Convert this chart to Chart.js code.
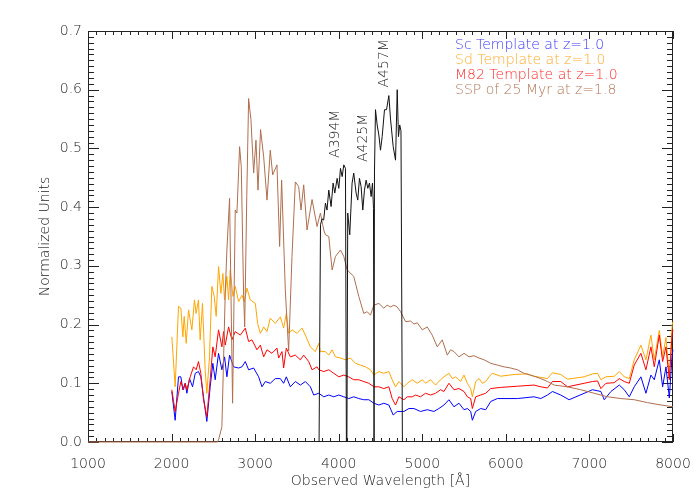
<!DOCTYPE html>
<html lang="en">
<head>
    <meta charset="UTF-8">
    <title>Spectral templates and filters</title>
    <style>
        body { margin: 0; background: #fff; }
        #wrap { width: 700px; height: 500px; }
    </style>
</head>
<body>
    <div id="wrap"><canvas id="specChart" width="700" height="500"></canvas></div>

    <script src="https://cdn.jsdelivr.net/npm/chart.js"></script>
    <script>
        // ---- data (wavelength in Å, flux in normalized units) ----
        const scWave = [2003,2043,2083,2111,2135,2163,2183,2215,2251,2283,2322,2350,2382,2422,2462,2494,2522,2562,2602,2634,2662,2694,2742,2802,2842,2882,2922,2982,3042,3082,3122,3181,3241,3301,3341,3373,3421,3481,3541,3601,3661,3701,3761,3821,3881,3941,4001,4061,4120,4180,4240,4300,4360,4420,4480,4540,4600,4652,4700,4780,4840,4900,4979,5059,5139,5199,5259,5319,5379,5439,5499,5539,5579,5599,5639,5699,5759,5819,5898,6138,6338,6418,6498,6558,6657,6757,7037,7137,7177,7257,7357,7417,7477,7536,7616,7676,7736,7776,7836,7876,7916,7956,7990,8000];
        const scFlux = [0.086,0.037,0.111,0.111,0.089,0.100,0.083,0.108,0.094,0.117,0.120,0.111,0.077,0.035,0.094,0.134,0.106,0.151,0.123,0.145,0.111,0.148,0.128,0.126,0.128,0.137,0.123,0.126,0.111,0.094,0.103,0.100,0.108,0.108,0.100,0.111,0.094,0.103,0.097,0.103,0.094,0.080,0.083,0.077,0.080,0.077,0.080,0.077,0.074,0.077,0.074,0.072,0.072,0.066,0.063,0.066,0.063,0.046,0.052,0.052,0.057,0.057,0.052,0.055,0.052,0.057,0.063,0.072,0.060,0.066,0.055,0.057,0.052,0.037,0.052,0.057,0.055,0.069,0.074,0.074,0.077,0.074,0.080,0.086,0.080,0.072,0.089,0.086,0.072,0.086,0.097,0.089,0.077,0.094,0.111,0.083,0.114,0.106,0.140,0.094,0.128,0.075,0.150,0.157];

        const sdWave = [2003,2043,2083,2111,2135,2151,2175,2203,2243,2274,2294,2322,2342,2370,2402,2422,2454,2482,2510,2534,2562,2590,2614,2634,2662,2682,2702,2734,2762,2802,2842,2870,2902,2942,3002,3030,3062,3102,3142,3181,3241,3301,3341,3373,3401,3441,3501,3561,3601,3661,3721,3761,3781,3841,3881,3921,3961,4021,4080,4140,4200,4260,4320,4380,4420,4480,4540,4600,4640,4680,4720,4780,4820,4880,4940,5000,5039,5099,5159,5219,5259,5319,5359,5399,5459,5499,5539,5579,5599,5639,5679,5719,5759,5799,5839,5938,6098,6258,6338,6418,6498,6558,6657,6737,6937,7037,7097,7137,7197,7297,7357,7417,7477,7536,7616,7676,7736,7776,7836,7876,7916,7956,7990,8000];
        const sdFlux = [0.179,0.094,0.231,0.228,0.179,0.214,0.168,0.225,0.191,0.242,0.219,0.242,0.174,0.236,0.123,0.083,0.145,0.265,0.248,0.214,0.299,0.253,0.287,0.242,0.282,0.242,0.293,0.248,0.265,0.239,0.250,0.239,0.262,0.242,0.236,0.202,0.185,0.196,0.188,0.211,0.202,0.213,0.194,0.219,0.185,0.191,0.185,0.194,0.182,0.162,0.154,0.168,0.154,0.154,0.148,0.157,0.145,0.143,0.140,0.143,0.134,0.131,0.128,0.123,0.114,0.120,0.117,0.120,0.106,0.094,0.103,0.094,0.100,0.106,0.100,0.106,0.100,0.106,0.097,0.106,0.111,0.117,0.108,0.111,0.103,0.114,0.100,0.091,0.077,0.103,0.108,0.100,0.103,0.111,0.117,0.112,0.115,0.116,0.112,0.110,0.108,0.118,0.115,0.107,0.111,0.116,0.117,0.106,0.111,0.112,0.120,0.111,0.108,0.140,0.165,0.140,0.182,0.140,0.190,0.145,0.178,0.112,0.200,0.205];

        const m82Wave = [2003,2043,2083,2111,2143,2163,2183,2223,2263,2294,2322,2350,2382,2422,2462,2494,2522,2562,2602,2622,2642,2682,2722,2762,2822,2882,2922,2962,3022,3062,3102,3142,3201,3261,3281,3321,3341,3373,3421,3481,3541,3581,3641,3681,3741,3761,3821,3881,3941,4001,4061,4120,4180,4240,4300,4360,4420,4480,4540,4600,4640,4680,4720,4780,4820,4880,4920,4979,5039,5099,5159,5219,5259,5319,5379,5439,5499,5539,5579,5599,5639,5699,5759,5819,5938,6138,6338,6418,6498,6558,6657,6737,6937,7037,7097,7137,7197,7297,7357,7417,7477,7536,7616,7676,7736,7776,7836,7876,7916,7956,7990,8000];
        const m82Flux = [0.089,0.052,0.083,0.103,0.089,0.100,0.089,0.111,0.128,0.123,0.137,0.117,0.072,0.043,0.106,0.162,0.145,0.191,0.162,0.188,0.165,0.196,0.174,0.188,0.182,0.194,0.171,0.174,0.157,0.165,0.145,0.157,0.151,0.160,0.143,0.154,0.126,0.160,0.145,0.148,0.140,0.148,0.137,0.123,0.128,0.123,0.120,0.123,0.117,0.111,0.114,0.111,0.106,0.106,0.103,0.100,0.094,0.094,0.091,0.094,0.074,0.063,0.077,0.072,0.077,0.077,0.080,0.077,0.083,0.080,0.083,0.089,0.086,0.100,0.089,0.091,0.086,0.077,0.074,0.057,0.077,0.080,0.083,0.091,0.093,0.095,0.097,0.094,0.092,0.103,0.103,0.094,0.100,0.103,0.104,0.091,0.100,0.101,0.108,0.103,0.100,0.131,0.151,0.123,0.162,0.128,0.182,0.137,0.162,0.106,0.185,0.191];

        const sspWave = [1000,2550,2565,2602,2642,2662,2694,2730,2762,2782,2814,2834,2862,2875,2900,2922,2950,2982,3010,3034,3065,3102,3142,3181,3210,3261,3293,3317,3361,3401,3441,3481,3521,3549,3581,3621,3681,3741,3781,3821,3841,3881,3921,3961,4021,4061,4101,4180,4240,4300,4340,4380,4420,4480,4540,4580,4620,4660,4700,4740,4800,4860,4900,4940,5000,5059,5119,5179,5239,5299,5339,5379,5439,5499,5559,5619,5679,5739,5819,5898,5978,6058,6138,6218,6338,6418,6498,6578,6737,6897,7057,7217,7377,7536,7696,7856,8000];
        const sspFlux = [0,0,0.005,0.026,0.253,0.327,0.415,0.066,0.395,0.390,0.503,0.469,0.250,0.196,0.420,0.585,0.549,0.458,0.514,0.429,0.532,0.486,0.412,0.497,0.455,0.472,0.333,0.446,0.259,0.155,0.316,0.443,0.435,0.395,0.438,0.361,0.413,0.367,0.390,0.361,0.353,0.350,0.293,0.316,0.327,0.316,0.293,0.282,0.248,0.219,0.222,0.216,0.233,0.236,0.228,0.233,0.230,0.233,0.230,0.222,0.205,0.206,0.201,0.203,0.191,0.196,0.182,0.162,0.174,0.148,0.157,0.154,0.145,0.151,0.145,0.147,0.143,0.140,0.134,0.131,0.128,0.126,0.123,0.117,0.112,0.108,0.103,0.097,0.094,0.089,0.083,0.077,0.074,0.072,0.067,0.063,0.060];

        const a394Wave = [3765,3782,3800,3820,3841,3860,3881,3909,3933,3953,3981,4001,4021,4041,4061,4081,4092];
        const a394Resp = [0,0.370,0.380,0.378,0.407,0.395,0.429,0.401,0.441,0.424,0.449,0.432,0.466,0.452,0.472,0.466,0];
        const a425Wave = [4098,4108,4132,4160,4180,4208,4228,4248,4268,4288,4308,4328,4348,4368,4388,4404,4416,4424];
        const a425Resp = [0,0.390,0.353,0.441,0.458,0.424,0.412,0.449,0.435,0.395,0.429,0.446,0.432,0.441,0.418,0.441,0.398,0];
        const a457Wave = [4422,4428,4440,4460,4480,4500,4520,4548,4572,4600,4620,4652,4680,4700,4715,4730,4745,4762];
        const a457Resp = [0,0.460,0.566,0.540,0.523,0.497,0.520,0.566,0.566,0.590,0.550,0.503,0.480,0.600,0.520,0.540,0.530,0];

        const filterNames = ['A394M', 'A425M', 'A457M'];
        const filterLabelX = [3955, 4300, 4550];
        const filterLabelY = [0.525, 0.518, 0.645];

        const legendLabels = ['Sc Template at z=1.0', 'Sd Template at z=1.0', 'M82 Template at z=1.0', 'SSP of 25 Myr at z=1.8'];
        const legendColors = ['#3636ff', '#ffaa2a', '#ff2a2a', '#b47656'];

        const xMajorTicks = [1000, 2000, 3000, 4000, 5000, 6000, 7000, 8000];
        const xTickLabels = ['1000', '2000', '3000', '4000', '5000', '6000', '7000', '8000'];
        const yMajorTicks = [0, 0.1, 0.2, 0.3, 0.4, 0.5, 0.6, 0.7];
        const yTickLabels = ['0.0', '0.1', '0.2', '0.3', '0.4', '0.5', '0.6', '0.7'];

        const axisColor = '#222';
        const textColor = '#222';
        const font = '300 14px "DejaVu Sans", sans-serif';

        function pairs(xs, ys) {
            return xs.map((v, i) => ({ x: v, y: ys[i] }));
        }

        function lineSet(label, xs, ys, color) {
            return { label: label, data: pairs(xs, ys), borderColor: color, borderWidth: 1, pointRadius: 0, showLine: true, fill: false, tension: 0, clip: false };
        }

        // IDL style box axes with inward ticks
        const boxAxes = {
            id: 'boxAxes',
            beforeDatasetsDraw(chart) {
                const { ctx, chartArea: a, scales: { x, y } } = chart;
                ctx.save();
                ctx.strokeStyle = axisColor;
                ctx.lineWidth = 1;
                ctx.strokeRect(a.left + 0.5, a.top + 0.5, a.right - a.left - 1, a.bottom - a.top - 1);
                ctx.beginPath();
                for (let w = 1000; w <= 8000; w += 100) {
                    const px = Math.round(x.getPixelForValue(w)) + 0.5;
                    const len = w % 1000 === 0 ? 8 : 4;
                    ctx.moveTo(px, a.bottom); ctx.lineTo(px, a.bottom - len);
                    ctx.moveTo(px, a.top); ctx.lineTo(px, a.top + len);
                }
                for (let k = 0; k <= 70; k++) {
                    const py = Math.round(y.getPixelForValue(k / 100)) + 0.5;
                    const len = k % 10 === 0 ? 11 : 6;
                    ctx.moveTo(a.left, py); ctx.lineTo(a.left + len, py);
                    ctx.moveTo(a.right, py); ctx.lineTo(a.right - len, py);
                }
                ctx.stroke();
                ctx.restore();
            },
            afterDraw(chart) {
                const { ctx, chartArea: a, scales: { x, y } } = chart;
                ctx.save();
                ctx.font = font;
                ctx.fillStyle = textColor;
                ctx.textBaseline = 'middle';

                ctx.textAlign = 'center';
                xMajorTicks.forEach((v, i) => ctx.fillText(xTickLabels[i], x.getPixelForValue(v), a.bottom + 22));
                ctx.textAlign = 'right';
                yMajorTicks.forEach((v, i) => ctx.fillText(yTickLabels[i], a.left - 6, y.getPixelForValue(v)));

                ctx.textAlign = 'center';
                ctx.fillText('Observed Wavelength [Å]', (a.left + a.right) / 2, a.bottom + 39);
                ctx.save();
                ctx.translate(45, (a.top + a.bottom) / 2);
                ctx.rotate(-Math.PI / 2);
                ctx.fillText('Normalized Units', 0, 0);
                ctx.restore();

                // filter names, written upwards
                filterNames.forEach((name, i) => {
                    ctx.save();
                    ctx.translate(x.getPixelForValue(filterLabelX[i]), y.getPixelForValue(filterLabelY[i]));
                    ctx.rotate(-Math.PI / 2);
                    ctx.fillText(name, 0, 0);
                    ctx.restore();
                });

                // legend text
                ctx.textAlign = 'left';
                legendLabels.forEach((t, i) => {
                    ctx.fillStyle = legendColors[i];
                    ctx.fillText(t, 455, 45 + i * 15);
                });
                ctx.restore();
            }
        };

        new Chart(document.getElementById('specChart').getContext('2d'), {
            type: 'scatter',
            data: {
                datasets: [
                    lineSet('A394M', a394Wave, a394Resp, '#111'),
                    lineSet('A425M', a425Wave, a425Resp, '#111'),
                    lineSet('A457M', a457Wave, a457Resp, '#111'),
                    lineSet('SSP of 25 Myr at z=1.8', sspWave, sspFlux, '#b06e4e'),
                    lineSet('M82 Template at z=1.0', m82Wave, m82Flux, '#ff0000'),
                    lineSet('Sd Template at z=1.0', sdWave, sdFlux, '#ffa500'),
                    lineSet('Sc Template at z=1.0', scWave, scFlux, '#0000ff')
                ]
            },
            options: {
                responsive: false,
                devicePixelRatio: 1,
                animation: false,
                layout: { padding: { left: 88, right: 27, top: 31, bottom: 58 } },
                plugins: { legend: { display: false }, tooltip: { enabled: false } },
                scales: {
                    x: { type: 'linear', min: 1000, max: 8000, display: false },
                    y: { type: 'linear', min: 0, max: 0.7, display: false }
                }
            },
            plugins: [boxAxes]
        });
    </script>
</body>
</html>
